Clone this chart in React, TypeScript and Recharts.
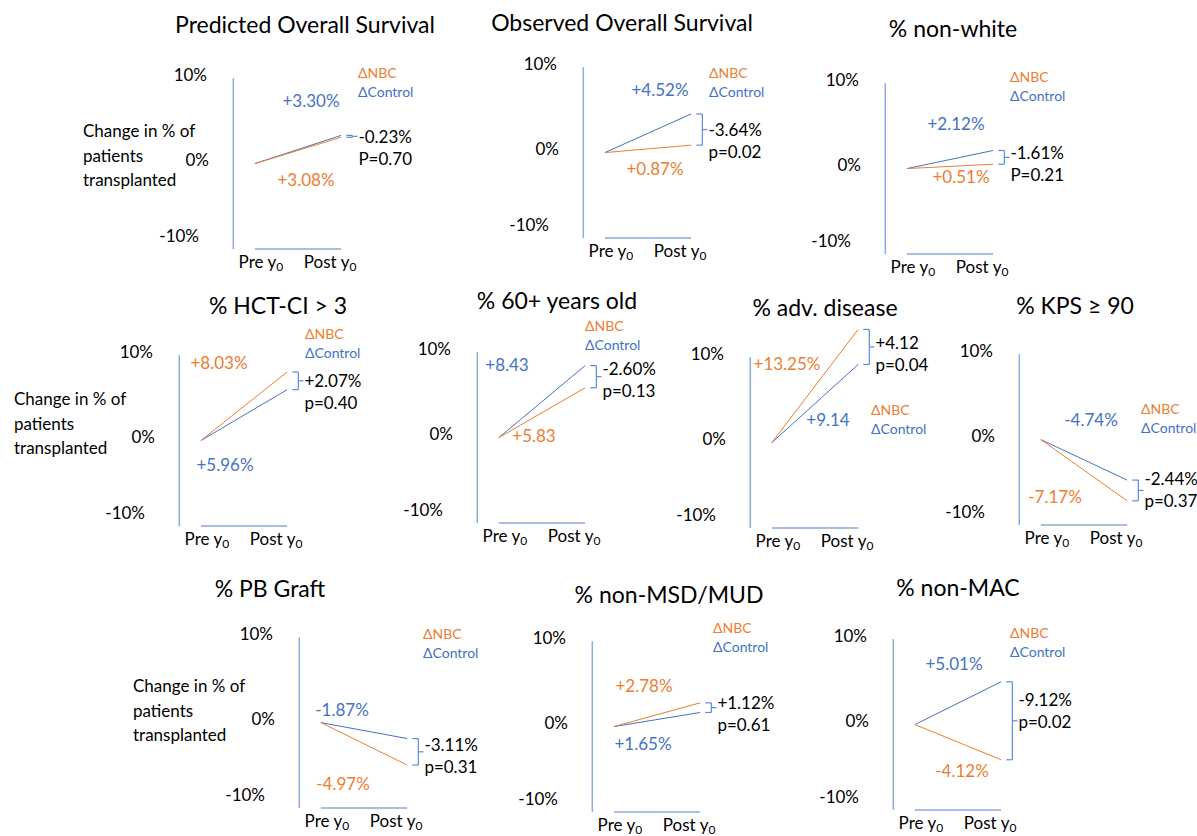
import React from "react";
import {
  LineChart,
  Line,
  XAxis,
  YAxis,
  ReferenceLine,
  ReferenceDot,
} from "recharts";

const titles = [
  "Predicted Overall Survival",
  "Observed Overall Survival",
  "% non-white",
  "% HCT-CI > 3",
  "% 60+ years old",
  "% adv. disease",
  "% KPS ≥ 90",
  "% PB Graft",
  "% non-MSD/MUD",
  "% non-MAC",
];

// change from pre y0 to post y0, in percentage points
const nbcChange = [3.08, 0.87, 0.51, 8.03, 5.83, 13.25, -7.17, -4.97, 2.78, -4.12];
const controlChange = [3.3, 4.52, 2.12, 5.96, 8.43, 9.14, -4.74, -1.87, 1.65, 5.01];

const nbcLabels = ["+3.08%", "+0.87%", "+0.51%", "+8.03%", "+5.83", "+13.25%", "-7.17%", "-4.97%", "+2.78%", "-4.12%"];
const controlLabels = ["+3.30%", "+4.52%", "+2.12%", "+5.96%", "+8.43", "+9.14", "-4.74%", "-1.87%", "+1.65%", "+5.01%"];
const diffLabels = ["-0.23%", "-3.64%", "-1.61%", "+2.07%", "-2.60%", "+4.12", "-2.44%", "-3.11%", "+1.12%", "-9.12%"];
const pLabels = ["P=0.70", "p=0.02", "P=0.21", "p=0.40", "p=0.13", "p=0.04", "p=0.37", "p=0.31", "p=0.61", "p=0.02"];

const periods = ["Pre y", "Post y"];
const yTicks = [-10, 0, 10];
const yTitleLines = ["Change in % of", "patients", "transplanted"];

// where each little slide sits on the page
const layout = [
  { ax: 233, top: 78, title: [305, 24], legend: [358, 63], ctl: [311, 100], nbc: [306, 179], yTitle: [83, 119], diffDy: 0 },
  { ax: 583, top: 67, title: [622, 22], legend: [709, 63], ctl: [660, 89], nbc: [655, 168], diffDy: 0 },
  { ax: 885, top: 83, title: [953, 28], legend: [1010, 67], ctl: [956, 123], nbc: [961, 176], diffDy: -5 },
  { ax: 179, top: 355, title: [278, 305], legend: [305, 324], ctl: [225, 464], nbc: [219, 362], yTitle: [14, 387], diffDy: 0 },
  { ax: 477, top: 352, title: [557, 300], legend: [585, 316], ctl: [507, 364], nbc: [534, 435], diffDy: -8 },
  { ax: 750, top: 357, title: [825, 307], legend: [871, 400], ctl: [828, 419], nbc: [787, 363], diffDy: -4 },
  { ax: 1019, top: 354, title: [1075, 305], legend: [1141, 399], ctl: [1091, 419], nbc: [1055, 496], diffDy: -12 },
  { ax: 299, top: 637, title: [270, 588], legend: [423, 624], ctl: [342, 709], nbc: [343, 783], yTitle: [133, 674], diffDy: -7 },
  { ax: 592, top: 641, title: [669, 594], legend: [713, 618], ctl: [643, 743], nbc: [644, 685], diffDy: -5 },
  { ax: 893, top: 639, title: [958, 587], legend: [1010, 623], ctl: [954, 663], nbc: [962, 770], diffDy: -21 },
];

const FONT = "Lato, 'Open Sans', 'DejaVu Sans', sans-serif";
const ORANGE = "#ED7D31";
const BLUE = "#4472C4";
const AXIS = "#8FAADC";
const BRACE = "#5B8BD9";

const YTick = (props: any) => {
  const { x, y, payload } = props;
  const v = payload.value;
  const dx = v === -10 ? -30 : v === 0 ? -20 : -22;
  const dy = v === -10 ? -14 : -4;
  return (
    <text x={x + dx} y={y + dy} textAnchor="end" dominantBaseline="central" fontSize={17} fill="#000" fontFamily={FONT}>
      {v}%
    </text>
  );
};

const XTick = (props: any) => {
  const { x, y, payload } = props;
  const i = payload.value === 0 ? 0 : 1;
  const dx = i === 0 ? 6 : -11;
  return (
    <text x={x + dx} y={y + 19} textAnchor="middle" fontSize={17} fill="#000" fontFamily={FONT}>
      {periods[i]}
      <tspan dy={3} fontSize={12}>0</tspan>
    </text>
  );
};

const Panel = ({ i }: { i: number }) => {
  const g = layout[i];
  const nbc = nbcChange[i];
  const ctl = controlChange[i];
  const data = [
    { x: 0, nbc: 0, control: 0 },
    { x: 1, nbc, control: ctl },
  ];
  const hi = Math.max(nbc, ctl);
  const lo = Math.min(nbc, ctl);
  const mid = (hi + lo) / 2;

  return (
    <div style={{ position: "absolute", left: g.ax - 94, top: g.top - 39 }}>
      <LineChart width={313} height={240} data={data} margin={{ top: 5, right: 85, left: 30, bottom: 0 }}>
        <XAxis
          type="number"
          dataKey="x"
          domain={[-0.3, 1.3]}
          ticks={[0, 1]}
          allowDataOverflow
          height={30}
          axisLine={false}
          tickLine={false}
          tickSize={0}
          tickMargin={0}
          tick={<XTick />}
        />
        <YAxis
          type="number"
          domain={[-10, 14]}
          ticks={yTicks}
          allowDataOverflow
          width={60}
          axisLine={false}
          tickLine={false}
          tickSize={0}
          tickMargin={0}
          tick={<YTick />}
        />
        <ReferenceLine segment={[{ x: -0.25, y: -10 }, { x: -0.25, y: 10 }]} stroke={AXIS} strokeWidth={1.5} />
        <ReferenceLine segment={[{ x: 0, y: -10 }, { x: 1, y: -10 }]} stroke={AXIS} strokeWidth={1.5} />
        <Line type="linear" dataKey="control" stroke={BLUE} strokeWidth={1} dot={false} isAnimationActive={false} />
        <Line type="linear" dataKey="nbc" stroke={ORANGE} strokeWidth={1} dot={false} isAnimationActive={false} />
        <ReferenceLine segment={[{ x: 1.06, y: hi }, { x: 1.13, y: hi }]} stroke={BRACE} strokeWidth={1.2} />
        <ReferenceLine segment={[{ x: 1.13, y: hi }, { x: 1.13, y: lo }]} stroke={BRACE} strokeWidth={1.2} />
        <ReferenceLine segment={[{ x: 1.06, y: lo }, { x: 1.13, y: lo }]} stroke={BRACE} strokeWidth={1.2} />
        <ReferenceLine segment={[{ x: 1.13, y: mid }, { x: 1.19, y: mid }]} stroke={BRACE} strokeWidth={1.2} />
        <ReferenceDot
          x={1.2}
          y={mid}
          r={0}
          fill="none"
          stroke="none"
          label={{
            content: (p: any) => {
              const vb = p.viewBox || {};
              const cx = vb.x ?? 0;
              const cy = (vb.y ?? 0) + g.diffDy;
              return (
                <g fontFamily={FONT} fontSize={17} fill="#000">
                  <text x={cx} y={cy} dominantBaseline="central">{diffLabels[i]}</text>
                  <text x={cx} y={cy + 22} dominantBaseline="central">{pLabels[i]}</text>
                </g>
              );
            },
          }}
        />
      </LineChart>
    </div>
  );
};

const centered = (x: number, y: number): React.CSSProperties => ({
  position: "absolute",
  left: x,
  top: y,
  transform: "translate(-50%, -50%)",
  whiteSpace: "nowrap",
  lineHeight: 1,
});

const App = () => {
  return (
    <div
      style={{
        position: "absolute",
        left: 0,
        top: 0,
        width: 1197,
        height: 836,
        background: "#fff",
        fontFamily: FONT,
        color: "#000",
        overflow: "hidden",
      }}
    >
      {layout.map((_, i) => (
        <Panel key={i} i={i} />
      ))}
      {layout.map((g, i) => (
        <React.Fragment key={"t" + i}>
          <div style={{ ...centered(g.title[0], g.title[1]), fontSize: 23 }}>{titles[i]}</div>
          <div style={{ position: "absolute", left: g.legend[0], top: g.legend[1], fontSize: 14, lineHeight: "19px" }}>
            <div style={{ color: ORANGE }}>ΔNBC</div>
            <div style={{ color: BLUE }}>ΔControl</div>
          </div>
          <div style={{ ...centered(g.ctl[0], g.ctl[1]), fontSize: 17, color: BLUE }}>{controlLabels[i]}</div>
          <div style={{ ...centered(g.nbc[0], g.nbc[1]), fontSize: 17, color: ORANGE }}>{nbcLabels[i]}</div>
          {g.yTitle && (
            <div style={{ position: "absolute", left: g.yTitle[0], top: g.yTitle[1], fontSize: 17, lineHeight: "24.5px", whiteSpace: "nowrap" }}>
              {yTitleLines.map((t) => (
                <div key={t}>{t}</div>
              ))}
            </div>
          )}
        </React.Fragment>
      ))}
    </div>
  );
};

export default App;
